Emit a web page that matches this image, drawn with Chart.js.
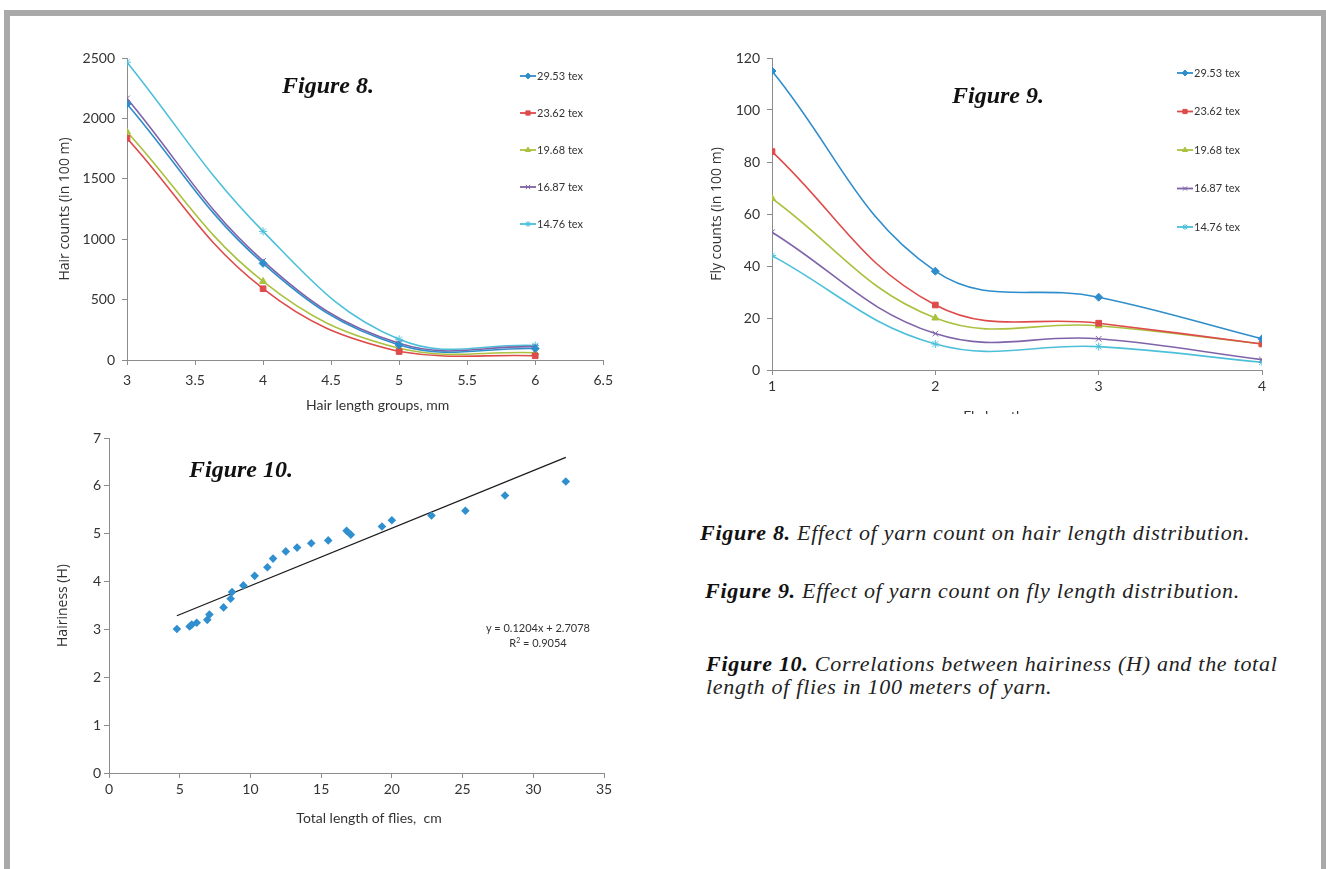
<!DOCTYPE html>
<html>
<head>
<meta charset="utf-8">
<title>Yarn hairiness and fly length</title>
<script src="https://cdn.jsdelivr.net/npm/chart.js@4.4.1/dist/chart.umd.min.js"></script>
<style>
html, body { margin: 0; padding: 0; background: #fff; }
#page { position: relative; width: 1326px; height: 869px; overflow: hidden; background: #fff; }
.bar { position: absolute; background: #a9a9a9; }
.box { position: absolute; overflow: hidden; }
.box canvas { display: block; }
.figtag { position: absolute; font-family: "Liberation Serif", serif; font-weight: bold; font-style: italic;
          font-size: 24px; line-height: 24px; color: #111; white-space: nowrap; }
.caption { position: absolute; font-family: "Liberation Serif", serif; font-style: italic;
           font-size: 22px; line-height: 23px; letter-spacing: 0.72px; color: #222; white-space: nowrap; }
.caption b { font-weight: bold; color: #111; }
.eq { position: absolute; font-family: Lato, sans-serif; font-size: 11px; line-height: 15px;
      color: #333; white-space: nowrap; text-align: center; }
.eq sup { font-size: 7px; line-height: 0; vertical-align: 4px; }
</style>
</head>
<body>
<div id="page">
  <div class="bar" style="left:4px;top:10px;width:1322px;height:6px;"></div>
  <div class="bar" style="left:4px;top:10px;width:6px;height:859px;"></div>
  <div class="bar" style="left:1321px;top:10px;width:5px;height:859px;"></div>

  <div class="box" style="left:20px;top:40px;width:600px;height:390px;"><canvas id="fig8" width="600" height="390"></canvas></div>
  <div class="box" style="left:670px;top:40px;width:620px;height:374px;"><canvas id="fig9" width="620" height="400"></canvas></div>
  <div class="box" style="left:20px;top:420px;width:600px;height:420px;"><canvas id="fig10" width="600" height="420"></canvas></div>

  <div class="figtag" style="left:282px;top:73px;">Figure 8.</div>
  <div class="figtag" style="left:952px;top:83px;">Figure 9.</div>
  <div class="figtag" style="left:189px;top:457px;">Figure 10.</div>

  <div class="eq" id="trendText" style="left:478px;top:620px;width:120px;"></div>

  <div class="caption" style="left:700px;top:521px;"><b>Figure 8.</b> Effect of yarn count on hair length distribution.</div>
  <div class="caption" style="left:705px;top:579px;"><b>Figure 9.</b> Effect of yarn count on fly length distribution.</div>
  <div class="caption" style="left:706px;top:652px;"><b>Figure 10.</b> Correlations between hairiness (H) and the total<br>length of flies in 100 meters of yarn.</div>
</div>

<script>
// yarn counts, one line per count in figures 8 and 9
var yarnCounts = ['29.53 tex', '23.62 tex', '19.68 tex', '16.87 tex', '14.76 tex'];
var yarnColors = ['#2f8dcb', '#de4b4b', '#a9c23f', '#7f63a9', '#4cc0d9'];
var yarnMarkers = ['rectRot', 'rect', 'triangle', 'crossRot', 'star'];

// figure 8: hair counts per 100 m by hair length group (mm)
var hairGroups = [3, 4, 5, 6];
var hair2953 = [2120, 800, 125, 95];
var hair2362 = [1835, 590, 70, 35];
var hair1968 = [1890, 650, 97, 60];
var hair1687 = [2165, 820, 138, 110];
var hair1476 = [2465, 1065, 171, 120];

// figure 9: fly counts per 100 m by fly length group
var flyGroups = [1, 2, 3, 4];
var fly2953 = [115, 38, 28, 12];
var fly2362 = [84, 25, 18, 10];
var fly1968 = [66, 20, 17, 10];
var fly1687 = [53, 14, 12, 4];
var fly1476 = [44, 10, 9, 3];

// figure 10: hairiness against total fly length (cm)
var flyLength = [4.8, 5.7, 5.85, 6.2, 6.95, 7.1, 8.1, 8.6, 8.7, 9.5, 10.3, 11.2, 11.6, 12.5,
                 13.3, 14.3, 15.5, 16.8, 17.1, 19.3, 20.0, 22.8, 25.2, 28.0, 32.3];
var hairiness = [3.01, 3.06, 3.10, 3.14, 3.20, 3.31, 3.46, 3.64, 3.78, 3.92, 4.12, 4.30, 4.48, 4.63,
                 4.71, 4.80, 4.86, 5.06, 4.98, 5.15, 5.28, 5.38, 5.48, 5.80, 6.09];
var trendSlope = 0.1204;
var trendIntercept = 2.7078;
var trendR2 = 0.9054;

var axisGray = '#8c8c8c';
var textColor = '#333';

function pairs(xs, ys) {
    return xs.map(function (x, i) { return { x: x, y: ys[i] }; });
}

function makeAxis(min, max, step, pad, size, title, titleFont, titlePad) {
    return {
        type: 'linear', min: min, max: max,
        ticks: { stepSize: step, padding: pad, color: textColor, font: { family: 'Lato', size: 14 },
                 autoSkip: false, maxRotation: 0,
                 callback: function (v) { return String(v); } },
        grid: { drawOnChartArea: false, drawTicks: true, tickLength: 5, color: axisGray, tickWidth: 1 },
        border: { display: true, color: axisGray, width: 1 },
        title: { display: !!title, text: title, color: textColor, font: titleFont, padding: titlePad },
        afterFit: function (scale) {
            if (scale.isHorizontal()) scale.height = size; else scale.width = size;
        }
    };
}

function yarnDatasets(xs, series) {
    return series.map(function (ys, i) {
        return {
            label: yarnCounts[i],
            data: pairs(xs, ys),
            borderColor: yarnColors[i],
            backgroundColor: yarnColors[i],
            borderWidth: 1.6,
            tension: 0.4,
            pointStyle: yarnMarkers[i],
            pointRadius: 4,
            pointBorderWidth: 1,
            pointBackgroundColor: yarnColors[i]
        };
    });
}

// legend drawn inside the plot: short line, marker in the middle, label
var lineLegend = {
    id: 'lineLegend',
    afterDraw: function (chart, args, opts) {
        if (!opts || opts.x === undefined) return;
        var ctx = chart.ctx;
        ctx.save();
        ctx.font = '11px Lato';
        ctx.textBaseline = 'middle';
        chart.data.datasets.forEach(function (ds, i) {
            var y = opts.y + i * opts.gap;
            ctx.strokeStyle = ds.borderColor;
            ctx.fillStyle = ds.borderColor;
            ctx.lineWidth = 1.8;
            ctx.beginPath();
            ctx.moveTo(opts.x, y);
            ctx.lineTo(opts.x + opts.len, y);
            ctx.stroke();
            ctx.lineWidth = 1;
            if (Chart.helpers && Chart.helpers.drawPoint) {
                Chart.helpers.drawPoint(ctx, { pointStyle: ds.pointStyle, radius: 3, borderWidth: 1, rotation: 0 },
                    opts.x + opts.len / 2, y);
            } else {
                ctx.fillRect(opts.x + opts.len / 2 - 2, y - 2, 4, 4);
            }
            ctx.fillStyle = textColor;
            ctx.fillText(ds.label, opts.x + opts.len + 1, y);
        });
        ctx.restore();
    }
};

// x-axis title, set a little right of the plot centre
var axisCaption = {
    id: 'axisCaption',
    afterDraw: function (chart, args, opts) {
        if (!opts || !opts.text) return;
        var a = chart.chartArea, ctx = chart.ctx;
        ctx.save();
        ctx.font = '14px Lato';
        ctx.fillStyle = textColor;
        ctx.textAlign = 'center';
        ctx.textBaseline = 'middle';
        ctx.fillText(opts.text, (a.left + a.right) / 2 + opts.dx, a.bottom + opts.dy);
        ctx.restore();
    }
};

Chart.defaults.font.family = 'Lato';

new Chart(document.getElementById('fig8'), {
    type: 'line',
    data: { datasets: yarnDatasets(hairGroups, [hair2953, hair2362, hair1968, hair1687, hair1476]) },
    options: {
        responsive: false, animation: false, devicePixelRatio: 1,
        layout: { padding: { left: 0, top: 18, right: 16, bottom: 0 } },
        scales: {
            x: makeAxis(3, 6.5, 0.5, 7, 70, ''),
            y: makeAxis(0, 2500, 500, 7, 107, 'Hair counts (in 100 m)', { family: 'Open Sans', size: 14 }, { top: 36.6, bottom: 0 })
        },
        plugins: {
            legend: { display: false }, tooltip: { enabled: false },
            lineLegend: { x: 500, y: 36, gap: 37, len: 16 },
            axisCaption: { text: 'Hair length groups, mm', dx: 12.5, dy: 45 }
        }
    },
    plugins: [lineLegend, axisCaption]
});

new Chart(document.getElementById('fig9'), {
    type: 'line',
    data: { datasets: yarnDatasets(flyGroups, [fly2953, fly2362, fly1968, fly1687, fly1476]) },
    options: {
        responsive: false, animation: false, devicePixelRatio: 1,
        layout: { padding: { left: 0, top: 18, right: 28, bottom: 0 } },
        scales: {
            x: makeAxis(1, 4, 1, 2.6, 70, ''),
            y: makeAxis(0, 120, 20, 7, 102, 'Fly counts (in 100 m)', { family: 'Open Sans', size: 14 }, { top: 38.6, bottom: 0 })
        },
        plugins: {
            legend: { display: false }, tooltip: { enabled: false },
            lineLegend: { x: 507, y: 33, gap: 38.5, len: 16 },
            axisCaption: { text: 'Fly length groups, mm', dx: 14, dy: 46 }
        }
    },
    plugins: [lineLegend, axisCaption]
});

// linear trend over the measured range
var xMin = Math.min.apply(null, flyLength);
var xMax = Math.max.apply(null, flyLength);
var trendLine = [xMin, xMax].map(function (x) { return { x: x, y: trendSlope * x + trendIntercept }; });

new Chart(document.getElementById('fig10'), {
    type: 'scatter',
    data: {
        datasets: [{
            label: 'Hairiness',
            data: pairs(flyLength, hairiness),
            pointStyle: 'rectRot',
            pointRadius: 4.3,
            pointBorderWidth: 0,
            backgroundColor: '#2f8fcf',
            borderColor: '#2f8fcf'
        }, {
            label: 'Linear trend',
            data: trendLine,
            showLine: true,
            borderColor: '#1c1c1c',
            borderWidth: 1.3,
            pointRadius: 0,
            tension: 0
        }]
    },
    options: {
        responsive: false, animation: false, devicePixelRatio: 1,
        layout: { padding: { left: 0, top: 18, right: 16, bottom: 0 } },
        scales: {
            x: makeAxis(0, 35, 5, 3, 67, ''),
            y: makeAxis(0, 7, 1, 3, 89, 'Hairiness (H)', { family: 'Open Sans', size: 14 }, { top: 34.6, bottom: 0 })
        },
        plugins: {
            legend: { display: false }, tooltip: { enabled: false },
            axisCaption: { text: 'Total length of flies,  cm', dx: 12.5, dy: 45 }
        }
    },
    plugins: [axisCaption]
});

document.getElementById('trendText').innerHTML =
    'y = ' + trendSlope.toFixed(4) + 'x + ' + trendIntercept.toFixed(4) +
    '<br>R<sup>2</sup> = ' + trendR2.toFixed(4);
</script>
</body>
</html>
